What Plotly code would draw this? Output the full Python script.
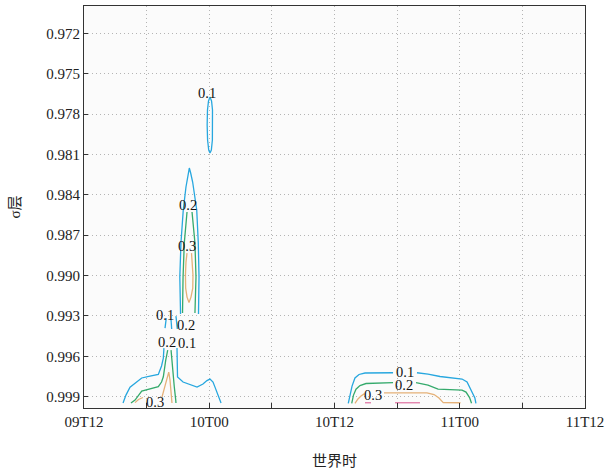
import pandas as pd
import plotly.graph_objects as go

# ---------------- data (hours after 09T12, sigma level) ----------------
BASE = pd.Timestamp("2000-01-09 12:00")

y_ticks = [0.972, 0.975, 0.978, 0.981, 0.984, 0.987, 0.990, 0.993, 0.996, 0.999]
x_tick_hours = [0, 12, 24, 36, 48]
x_tick_labels = ["09T12", "10T00", "10T12", "11T00", "11T12"]

# --- level 0.1 (blue) pieces ---
b_top_h = [12.07, 12.22, 12.31, 12.34, 12.30, 12.20, 12.07, 11.95, 11.84, 11.80, 11.83, 11.93, 12.07]
b_top_s = [0.97673, 0.97703, 0.97770, 0.97881, 0.97993, 0.98067, 0.98089, 0.98067, 0.97993, 0.97881, 0.97770, 0.97703, 0.97673]
b_mid_h = [9.25, 9.23, 9.18, 9.29, 9.51, 9.77, 9.96, 10.09, 10.22, 10.41, 10.80, 10.95, 11.02, 11.02, 10.97]
b_mid_s = [0.99286, 0.99182, 0.99011, 0.98758, 0.98513, 0.98342, 0.98245, 0.98201, 0.98238, 0.98305, 0.98513, 0.98758, 0.99011, 0.99182, 0.99286]
b_lowl_h = [3.74, 4.02, 4.41, 4.89, 5.53, 6.32, 7.12, 7.43, 7.60, 7.66]
b_lowl_s = [0.99947, 0.99888, 0.99829, 0.99799, 0.99761, 0.99747, 0.99735, 0.99672, 0.99613, 0.99539]
b_neck1_h = [7.76, 7.88]
b_neck1_s = [0.99390, 0.99316]
b_neck2_h = [8.34, 8.40]
b_neck2_s = [0.99330, 0.99397]
b_neck3_h = [8.81, 8.94]
b_neck3_s = [0.99301, 0.99397]
b_lowr_h = [8.91, 8.91, 8.96, 9.49, 10.16, 10.83, 11.40, 11.78, 12.07, 12.36, 12.55, 12.84, 13.13]
b_lowr_s = [0.99539, 0.99650, 0.99754, 0.99791, 0.99810, 0.99829, 0.99806, 0.99780, 0.99769, 0.99791, 0.99829, 0.99888, 0.99947]
b_r1_h = [25.32, 25.49, 25.68, 25.96, 26.35, 26.92, 28.38, 29.61]
b_r1_s = [0.99949, 0.99888, 0.99821, 0.99761, 0.99735, 0.99724, 0.99722, 0.99722]
b_r2_h = [31.90, 32.96, 34.11, 35.55, 36.22, 36.70, 37.22, 37.45, 37.55]
b_r2_s = [0.99722, 0.99732, 0.99750, 0.99761, 0.99769, 0.99791, 0.99866, 0.99910, 0.99949]

# --- level 0.2 (green) pieces ---
g_lowl_h = [4.50, 4.89, 5.53, 6.32, 7.12, 7.43, 7.60, 7.83, 8.02]
g_lowl_s = [0.99947, 0.99925, 0.99858, 0.99840, 0.99826, 0.99791, 0.99752, 0.99628, 0.99554]
g_lowr_h = [8.34, 8.46, 8.65, 8.79, 8.81]
g_lowr_s = [0.99554, 0.99678, 0.99826, 0.99925, 0.99947]
g_midl_h = [9.87, 9.77, 9.61, 9.49, 9.49, 9.44]
g_midl_s = [0.98528, 0.98602, 0.98758, 0.99011, 0.99182, 0.99278]
g_midr_h = [10.35, 10.49, 10.63, 10.73, 10.68, 10.63]
g_midr_s = [0.98528, 0.98625, 0.98758, 0.99011, 0.99182, 0.99278]
g_r1_h = [25.65, 25.82, 26.06, 26.44, 27.02, 28.38, 29.61]
g_r1_s = [0.99949, 0.99888, 0.99844, 0.99817, 0.99802, 0.99799, 0.99796]
g_r2_h = [31.81, 32.96, 33.92, 35.07, 36.22, 36.60, 36.94, 37.13]
g_r2_s = [0.99796, 0.99814, 0.99844, 0.99847, 0.99851, 0.99866, 0.99907, 0.99949]

# --- level 0.3 (orange) pieces ---
o_mid_h = [9.87, 9.77, 9.72, 9.74, 9.87, 10.06, 10.25, 10.42, 10.44, 10.40, 10.30]
o_mid_s = [0.98833, 0.98900, 0.98996, 0.99093, 0.99160, 0.99200, 0.99160, 0.99093, 0.98996, 0.98900, 0.98833]
o_lowl_h = [4.89, 5.22, 5.65]
o_lowl_s = [0.99944, 0.99921, 0.99906]
o_peak_h = [7.47, 7.71, 7.95, 8.12, 8.24, 8.34, 8.43]
o_peak_s = [0.99903, 0.99836, 0.99761, 0.99717, 0.99776, 0.99865, 0.99947]
o_r1_h = [25.96, 26.25, 26.54, 26.88]
o_r1_s = [0.99949, 0.99917, 0.99895, 0.99877]
o_r2_h = [28.74, 30.28, 32.86, 33.54, 34.01, 34.42, 35.07, 36.07]
o_r2_s = [0.99871, 0.99871, 0.99871, 0.99884, 0.99910, 0.99944, 0.99945, 0.99945]

# --- level 0.4 (pink) pieces ---
p_1_h = [26.92, 27.50]
p_1_s = [0.99945, 0.99945]
p_2_h = [29.80, 32.19]
p_2_s = [0.99945, 0.99945]

# --- contour labels ---
lab_text = ["0.1", "0.2", "0.3", "0.1", "0.2", "0.2", "0.1", "0.3", "0.1", "0.2", "0.3"]
lab_h = [11.78, 9.96, 9.87, 7.76, 9.77, 7.92, 9.87, 6.80, 30.75, 30.66, 27.69]
lab_s = [0.97644, 0.98476, 0.98781, 0.99293, 0.99368, 0.99494, 0.99501, 0.99940, 0.99720, 0.99810, 0.99888]

# ---------------- figure ----------------
def to_time(hours):
    return [BASE + pd.Timedelta(hours=h) for h in hours]

def join(pieces):
    xs, ys = [], []
    for hh, ss in pieces:
        xs += to_time(hh) + [None]
        ys += list(ss) + [None]
    return xs, ys

levels = [
    ("0.1", "#27a7df", [(b_top_h, b_top_s), (b_mid_h, b_mid_s), (b_lowl_h, b_lowl_s),
                        (b_neck1_h, b_neck1_s), (b_neck2_h, b_neck2_s), (b_neck3_h, b_neck3_s),
                        (b_lowr_h, b_lowr_s), (b_r1_h, b_r1_s), (b_r2_h, b_r2_s)]),
    ("0.2", "#35aa6c", [(g_lowl_h, g_lowl_s), (g_lowr_h, g_lowr_s), (g_midl_h, g_midl_s),
                        (g_midr_h, g_midr_s), (g_r1_h, g_r1_s), (g_r2_h, g_r2_s)]),
    ("0.3", "#e5b178", [(o_mid_h, o_mid_s), (o_lowl_h, o_lowl_s), (o_peak_h, o_peak_s),
                        (o_r1_h, o_r1_s), (o_r2_h, o_r2_s)]),
    ("0.4", "#e07aa6", [(p_1_h, p_1_s), (p_2_h, p_2_s)]),
]

fig = go.Figure()
for name, color, pieces in levels:
    xs, ys = join(pieces)
    fig.add_trace(go.Scatter(x=xs, y=ys, mode="lines", name=name,
                             line=dict(color=color, width=1.3),
                             connectgaps=False, hoverinfo="skip"))

FONT = "'Liberation Serif', 'Times New Roman', 'Noto Sans CJK SC', serif"
TICKFONT = dict(family="Liberation Serif", size=15, color="#222222")
for t, h, s in zip(lab_text, lab_h, lab_s):
    fig.add_annotation(x=BASE + pd.Timedelta(hours=h), y=s, text=t, showarrow=False,
                       font=dict(family=FONT, size=14.5, color="#111111"),
                       xanchor="center", yanchor="middle")

GRIDC = "#b4b4b4"
GRIDDASH = "1px,3px"

fig.update_layout(
    width=606, height=471,
    margin=dict(l=84, r=21, t=6, b=63),
    paper_bgcolor="white", plot_bgcolor="#fbfbfb",
    showlegend=False,
    font=dict(family=FONT, size=15, color="#222222"),
    xaxis=dict(
        type="date",
        range=[BASE, BASE + pd.Timedelta(hours=48)],
        tickvals=to_time(x_tick_hours), ticktext=x_tick_labels,
        tickfont=TICKFONT,
        ticks="inside", ticklen=5, tickcolor="#333333",
        showline=True, linecolor="#333333", linewidth=1, mirror=True,
        showgrid=True, gridcolor=GRIDC, griddash=GRIDDASH, gridwidth=1,
        minor=dict(dtick=6 * 3600 * 1000, tick0=BASE, ticks="inside", ticklen=5,
                   tickcolor="#333333", showgrid=True, gridcolor=GRIDC, griddash=GRIDDASH),
        title=dict(text="世界时", standoff=26, font=dict(size=15)),
        automargin=False, zeroline=False,
    ),
    yaxis=dict(
        range=[0.99984, 0.96997],
        tickvals=y_ticks, ticktext=[f"{v:.3f}" for v in y_ticks],
        tickfont=TICKFONT,
        ticks="inside", ticklen=4, tickcolor="#333333",
        showline=True, linecolor="#333333", linewidth=1, mirror=True,
        showgrid=True, gridcolor=GRIDC, griddash=GRIDDASH, gridwidth=1,
        title=dict(text="σ层", standoff=22, font=dict(size=15)),
        automargin=False, zeroline=False,
    ),
)

fig.write_html("out.html", config={"displayModeBar": False},
               post_script="document.body.style.margin='0';document.body.style.padding='0';")
